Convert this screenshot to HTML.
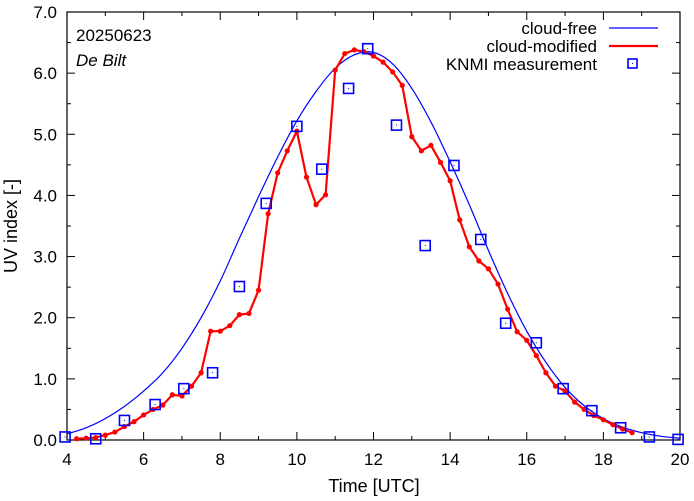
<!DOCTYPE html>
<html><head><meta charset="utf-8"><style>
body{margin:0;background:#fff}
svg{display:block;font-family:"Liberation Sans",sans-serif}
</style></head><body>
<svg id="c" width="694" height="501">
<rect x="0" y="0" width="694" height="501" fill="#fff"/>
<g id="axes"></g>
<g id="series"></g>
<text x="76" y="41" font-size="17">20250623</text>
<text x="76" y="66" font-size="17" font-style="italic">De Bilt</text>
<g font-size="17" text-anchor="end">
<text x="597" y="34">cloud-free</text>
<line x1="609" y1="28" x2="658" y2="28" stroke="#0000ff" stroke-width="1.2"/>
<text x="597" y="52">cloud-modified</text>
<line x1="609" y1="46" x2="658" y2="46" stroke="#ff0000" stroke-width="2.2"/>
<text x="597" y="70">KNMI measurement</text>
<rect x="628" y="59" width="9" height="9" fill="none" stroke="#0000ff" stroke-width="1.6"/>
<rect x="632" y="63" width="1" height="1" fill="#0000ff"/>
</g>
<text x="374" y="492" font-size="18" text-anchor="middle">Time  [UTC]</text>
<text transform="translate(17,226) rotate(-90)" font-size="18" text-anchor="middle">UV index  [-]</text>
</svg>
<script>
const cfTimes=[4,4.5,5,5.5,6,6.5,7,7.5,8,8.5,9,9.5,10,10.5,11,11.5,12,12.5,13,13.5,14,14.5,15,15.5,16,16.5,17,17.5,18,18.5,19,19.5,20];
const cfValues=[0.1,0.2,0.35,0.55,0.8,1.1,1.5,2.0,2.6,3.3,3.98,4.63,5.22,5.7,6.08,6.3,6.34,6.15,5.75,5.2,4.55,3.85,3.1,2.4,1.78,1.27,0.86,0.56,0.35,0.21,0.12,0.06,0.03];
const cmTimes=[4.25,4.5,4.75,5,5.25,5.5,5.75,6,6.25,6.5,6.75,7,7.25,7.5,7.75,8,8.25,8.5,8.75,9,9.25,9.5,9.75,10,10.25,10.5,10.75,11,11.25,11.5,11.75,12,12.25,12.5,12.75,13,13.25,13.5,13.75,14,14.25,14.5,14.75,15,15.25,15.5,15.75,16,16.25,16.5,16.75,17,17.25,17.5,17.75,18,18.25,18.5,18.75];
const cmValues=[0.02,0.03,0.04,0.08,0.13,0.22,0.3,0.41,0.5,0.57,0.74,0.72,0.88,1.1,1.78,1.78,1.87,2.05,2.07,2.45,3.7,4.37,4.73,5.05,4.3,3.85,4.01,6.05,6.32,6.38,6.35,6.28,6.18,6.02,5.8,4.96,4.73,4.82,4.54,4.24,3.6,3.16,2.93,2.8,2.55,2.14,1.77,1.63,1.38,1.1,0.88,0.8,0.62,0.5,0.4,0.33,0.25,0.18,0.12];
const msTimes=[3.95,4.75,5.5,6.3,7.05,7.8,8.5,9.2,10.0,10.65,11.35,11.85,12.6,13.35,14.1,14.8,15.45,16.25,16.95,17.7,18.45,19.2,19.95];
const msValues=[0.05,0.02,0.32,0.58,0.84,1.1,2.51,3.87,5.13,4.43,5.75,6.4,5.15,3.18,4.49,3.28,1.91,1.59,0.84,0.48,0.2,0.05,0.01];
const xTicks=[4,6,8,10,12,14,16,18,20];
const yTicks=[0,1,2,3,4,5,6,7];

const L=67,R=680,T=12,B=440;
const X=t=>L+(t-4)/16*(R-L), Y=v=>B-v/7*(B-T);
const NS='http://www.w3.org/2000/svg';
function mk(tag,attrs,parent){const e=document.createElementNS(NS,tag);for(const k in attrs)e.setAttribute(k,attrs[k]);parent.appendChild(e);return e;}
const ax=document.getElementById('axes'), se=document.getElementById('series');
for(let t=4;t<=20;t+=1){const len=(t%2===0)?8:4;
 mk('line',{x1:X(t),y1:B,x2:X(t),y2:B-len,stroke:'#000','stroke-width':1},ax);
 mk('line',{x1:X(t),y1:T,x2:X(t),y2:T+len,stroke:'#000','stroke-width':1},ax);}
for(let v=0;v<=7.001;v+=0.5){const len=(Math.abs(v-Math.round(v))<0.01)?8:4;
 mk('line',{x1:L,y1:Y(v),x2:L+len,y2:Y(v),stroke:'#000','stroke-width':1},ax);
 mk('line',{x1:R,y1:Y(v),x2:R-len,y2:Y(v),stroke:'#000','stroke-width':1},ax);}
xTicks.forEach(t=>{const e=mk('text',{x:X(t),y:B+25,'font-size':17,'text-anchor':'middle'},ax);e.textContent=t;
 
 });
yTicks.forEach(v=>{const e=mk('text',{x:L-10,y:Y(v)+6,'font-size':17,'text-anchor':'end'},ax);e.textContent=v.toFixed(1);
 
 });
const fr=mk('rect',{x:L,y:T,width:R-L,height:B-T,fill:'none',stroke:'#000','stroke-width':1.2},ax);


const pts=cfTimes.map((t,i)=>[X(t),Y(cfValues[i])]);
let d='M'+pts[0][0]+','+pts[0][1];
for(let i=0;i<pts.length-1;i++){const p0=pts[Math.max(0,i-1)],p1=pts[i],p2=pts[i+1],p3=pts[Math.min(pts.length-1,i+2)];
 d+=' C'+(p1[0]+(p2[0]-p0[0])/6)+','+(p1[1]+(p2[1]-p0[1])/6)+' '+(p2[0]-(p3[0]-p1[0])/6)+','+(p2[1]-(p3[1]-p1[1])/6)+' '+p2[0]+','+p2[1];}
const cf=mk('path',{d:d,fill:'none',stroke:'#0000ff','stroke-width':1.2},se);


const cm=mk('polyline',{points:cmTimes.map((t,i)=>X(t)+','+Y(cmValues[i])).join(' '),fill:'none',stroke:'#ff0000','stroke-width':2.2},se);


cmTimes.forEach((t,i)=>{const c=mk('circle',{cx:X(t),cy:Y(cmValues[i]),r:2.6,fill:'#ff0000'},se);
 
 });
msTimes.forEach((t,i)=>{const g=mk('g',{},se);
 
 
 mk('rect',{x:X(t)-5,y:Y(msValues[i])-5,width:10,height:10,fill:'none',stroke:'#0000ff','stroke-width':1.6},g);
 mk('rect',{x:X(t)-0.5,y:Y(msValues[i])-0.5,width:1,height:1,fill:'#0000ff'},g);});
</script>
</body></html>
